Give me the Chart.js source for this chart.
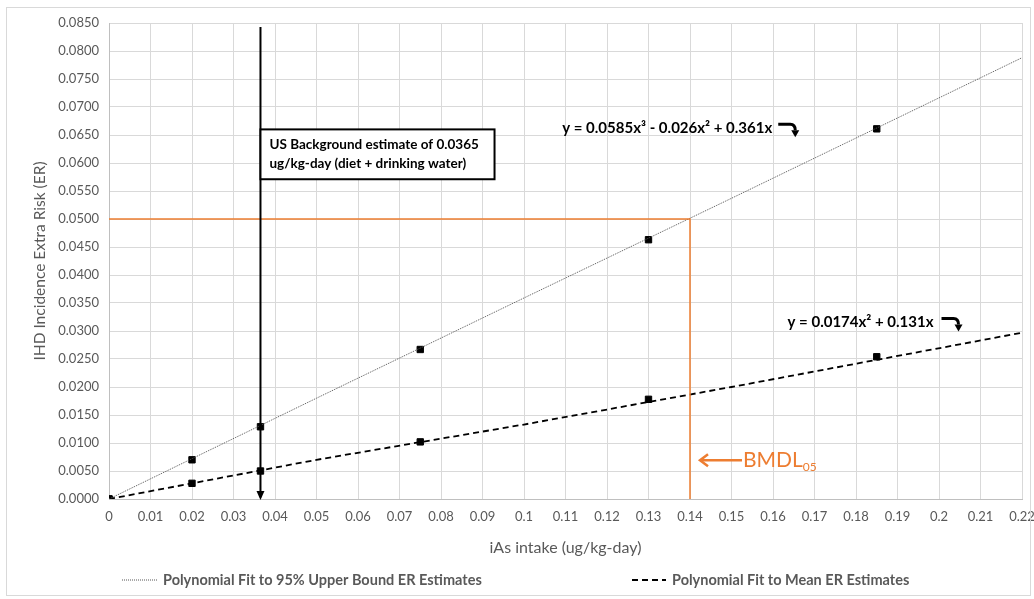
<!DOCTYPE html>
<html>
<head>
<meta charset="utf-8">
<script src="https://cdn.jsdelivr.net/npm/chart.js@4.4.1/dist/chart.umd.min.js"></script>
<style>
  html, body { margin: 0; padding: 0; background: #fff; }
  #wrap { position: relative; width: 1034px; height: 599px; }
  #wrap:after { content: ''; position: absolute; left: 6px; top: 7px; right: 3px; bottom: 3px; border: 1px solid #d9d9d9; pointer-events: none; }
</style>
</head>
<body>
<div id="wrap"><canvas id="chart" width="1034" height="599"></canvas></div>
<script>
// Data
const doseX = [0, 0.02, 0.0365, 0.075, 0.13, 0.185];
const upperER = [0, 0.0070, 0.0129, 0.0267, 0.0463, 0.0661];
const meanER = [0, 0.0028, 0.0050, 0.0102, 0.0178, 0.0254];

// Trend lines
const fitX = [0, 0.05, 0.10, 0.15, 0.22];
const fitUpper = [0, 0.0180, 0.0359, 0.0537, 0.0788];
const fitMean = [0, 0.0070, 0.0133, 0.0200, 0.0297];

const backgroundDose = 0.0365;
const bmdl = 0.14;
const bmr = 0.05;

const upperLabel = 'Polynomial Fit to 95% Upper Bound ER Estimates';
const meanLabel = 'Polynomial Fit to Mean ER Estimates';
const upperEq = 'y = 0.0585x³ - 0.026x² + 0.361x';
const meanEq = 'y = 0.0174x² + 0.131x';
const bgText = ['US Background estimate of 0.0365', 'ug/kg-day (diet + drinking water)'];

const FONT = 'Lato, "Open Sans", sans-serif';
const ORANGE = '#ed7d31';
const GREY = '#595959';

function pts(xs, ys) { return xs.map((x, i) => ({ x: x, y: ys[i] })); }

function bentArrow(ctx, x, y) {
    ctx.save();
    ctx.strokeStyle = '#000';
    ctx.fillStyle = '#000';
    ctx.lineWidth = 3;
    ctx.beginPath();
    ctx.moveTo(x, y - 4);
    ctx.lineTo(x + 12, y - 4);
    ctx.quadraticCurveTo(x + 17, y - 4, x + 17, y + 2);
    ctx.stroke();
    ctx.beginPath();
    ctx.moveTo(x + 13, y + 2);
    ctx.lineTo(x + 21, y + 2);
    ctx.lineTo(x + 17, y + 9);
    ctx.closePath();
    ctx.fill();
    ctx.restore();
}

const overlay = {
    id: 'overlay',
    afterDatasetsDraw(chart) {
        const ctx = chart.ctx;
        const xs = chart.scales.x, ys = chart.scales.y;

        // arrow head at bottom of background line
        const bx = xs.getPixelForValue(backgroundDose);
        const by = ys.getPixelForValue(0);
        ctx.save();
        ctx.fillStyle = '#000';
        ctx.beginPath();
        ctx.moveTo(bx - 4, by - 8);
        ctx.lineTo(bx + 4, by - 8);
        ctx.lineTo(bx, by + 1);
        ctx.closePath();
        ctx.fill();

        // text box for background estimate
        const boxL = bx, boxR = xs.getPixelForValue(0.0929);
        const boxT = ys.getPixelForValue(0.0660), boxB = ys.getPixelForValue(0.0571);
        ctx.fillStyle = '#fff';
        ctx.fillRect(boxL, boxT, boxR - boxL, boxB - boxT);
        ctx.strokeStyle = '#000';
        ctx.lineWidth = 2;
        ctx.strokeRect(boxL, boxT, boxR - boxL, boxB - boxT);
        ctx.fillStyle = '#000';
        ctx.font = 'bold 13.5px ' + FONT;
        ctx.textAlign = 'left';
        ctx.textBaseline = 'middle';
        ctx.fillText(bgText[0], boxL + 9, boxT + 15);
        ctx.fillText(bgText[1], boxL + 9, boxT + 34);

        // equations
        ctx.font = 'bold 15px ' + FONT;
        const e1x = xs.getPixelForValue(0.1092), e1y = ys.getPixelForValue(0.0662);
        ctx.fillText(upperEq, e1x, e1y);
        bentArrow(ctx, e1x + ctx.measureText(upperEq).width + 6, e1y);
        const e2x = xs.getPixelForValue(0.1635), e2y = ys.getPixelForValue(0.0315);
        ctx.fillText(meanEq, e2x, e2y);
        bentArrow(ctx, e2x + ctx.measureText(meanEq).width + 8, e2y);

        // BMDL05 arrow and label
        const ax = xs.getPixelForValue(bmdl) + 9, ay = ys.getPixelForValue(0.0069);
        ctx.strokeStyle = ORANGE;
        ctx.fillStyle = ORANGE;
        ctx.lineWidth = 2.5;
        ctx.beginPath();
        ctx.moveTo(ax + 3, ay);
        ctx.lineTo(ax + 43, ay);
        ctx.stroke();
        ctx.beginPath();
        ctx.moveTo(ax + 9, ay - 6);
        ctx.lineTo(ax + 1, ay);
        ctx.lineTo(ax + 9, ay + 6);
        ctx.stroke();
        ctx.font = '21px ' + FONT;
        ctx.fillText('BMDL', ax + 44, ay);
        const w = ctx.measureText('BMDL').width;
        ctx.font = '12px ' + FONT;
        ctx.fillText('05', ax + 44 + w, ay + 7);

        // legend
        const ly = 580;
        ctx.font = 'bold 14.5px ' + FONT;
        ctx.fillStyle = GREY;
        ctx.strokeStyle = '#555';
        ctx.lineWidth = 1;
        ctx.setLineDash([1, 1]);
        ctx.beginPath(); ctx.moveTo(122, ly); ctx.lineTo(158, ly); ctx.stroke();
        ctx.fillText(upperLabel, 163, ly);
        ctx.strokeStyle = '#000';
        ctx.lineWidth = 2;
        ctx.setLineDash([6, 4]);
        ctx.beginPath(); ctx.moveTo(632, ly); ctx.lineTo(666, ly); ctx.stroke();
        ctx.setLineDash([]);
        ctx.fillText(meanLabel, 672, ly);
        ctx.restore();
    }
};

new Chart(document.getElementById('chart').getContext('2d'), {
    type: 'scatter',
    data: {
        datasets: [{
            label: 'Background',
            data: [{ x: backgroundDose, y: 0.0843 }, { x: backgroundDose, y: 0.0003 }],
            showLine: true,
            borderColor: '#000',
            borderWidth: 2,
            pointRadius: 0
        }, {
            label: 'BMR',
            data: [{ x: 0, y: bmr }, { x: bmdl, y: bmr }, { x: bmdl, y: 0 }],
            showLine: true,
            borderColor: ORANGE,
            borderWidth: 1.5,
            pointRadius: 0
        }, {
            label: upperLabel,
            data: pts(fitX, fitUpper),
            showLine: true,
            borderColor: '#555',
            borderWidth: 1,
            borderDash: [1, 1],
            pointRadius: 0
        }, {
            label: meanLabel,
            data: pts(fitX, fitMean),
            showLine: true,
            borderColor: '#000',
            borderWidth: 1.8,
            borderDash: [6, 4],
            pointRadius: 0
        }, {
            label: 'Upper ER',
            data: pts(doseX, upperER),
            pointStyle: 'rect',
            pointRadius: 4.5,
            backgroundColor: '#000',
            borderColor: '#000'
        }, {
            label: 'Mean ER',
            data: pts(doseX, meanER),
            pointStyle: 'rect',
            pointRadius: 4.5,
            backgroundColor: '#000',
            borderColor: '#000'
        }]
    },
    options: {
        responsive: false,
        animation: false,
        layout: { padding: { left: 0, top: 23, right: 12, bottom: 0 } },
        plugins: { legend: { display: false }, tooltip: { enabled: false } },
        scales: {
            x: {
                type: 'linear',
                min: 0,
                max: 0.22,
                ticks: {
                    stepSize: 0.01,
                    color: GREY,
                    font: { family: FONT, size: 13 },
                    maxRotation: 0,
                    autoSkip: false,
                    padding: 10,
                    callback: v => String(Number(v.toFixed(2)))
                },
                grid: { color: '#d9d9d9', drawTicks: false },
                border: { color: '#bfbfbf' },
                title: {
                    display: true,
                    text: 'iAs intake (ug/kg-day)',
                    color: GREY,
                    font: { family: FONT, size: 16 },
                    padding: { top: 0, bottom: 42 }
                },
                afterFit: s => {
                    s.height = 100;
                    s.paddingLeft = 0;
                    s.paddingRight = 0;
                }
            },
            y: {
                min: 0,
                max: 0.085,
                ticks: {
                    stepSize: 0.005,
                    color: GREY,
                    font: { family: FONT, size: 13 },
                    padding: 10,
                    callback: v => v.toFixed(4)
                },
                grid: { color: '#d9d9d9', drawTicks: false },
                border: { color: '#bfbfbf' },
                title: {
                    display: true,
                    text: 'IHD Incidence Extra Risk (ER)',
                    color: GREY,
                    font: { family: FONT, size: 15.5 },
                    padding: { top: 31, bottom: 0 }
                },
                afterFit: s => { s.width = 109; }
            }
        }
    },
    plugins: [overlay]
});
</script>
</body>
</html>
